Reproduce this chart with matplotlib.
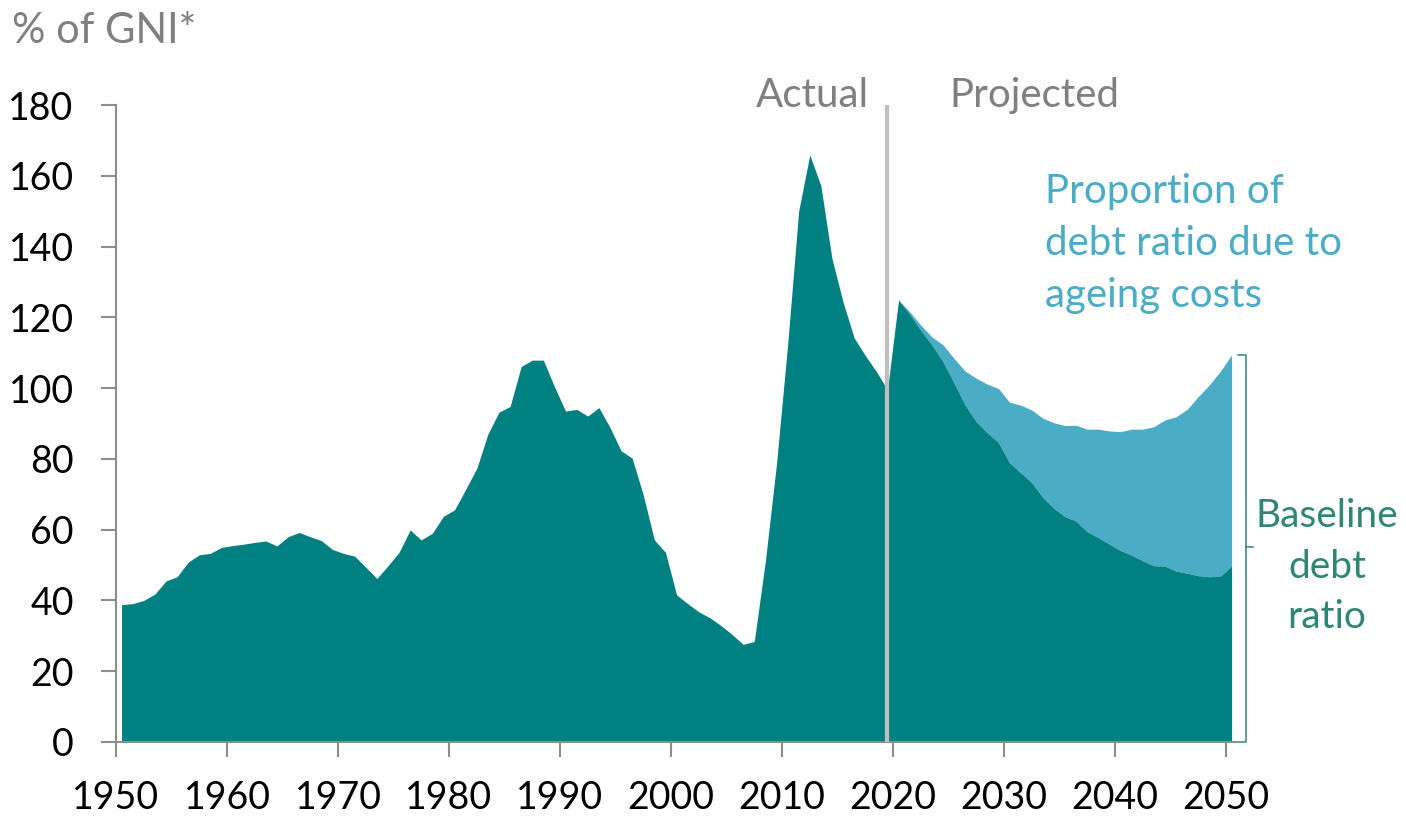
import matplotlib
matplotlib.use("Agg")
import numpy as np
from matplotlib import pyplot as plt

plt.rcParams['font.family'] = ['Lato', 'DejaVu Sans']

# debt ratio, % of GNI*, actual 1950-2019
actual_years = list(range(1950, 2020))
actual_debt = [38.8, 39.1, 40.0, 41.8, 45.5, 46.7, 50.8, 52.9, 53.3, 55.0,
               55.5, 55.9, 56.4, 56.8, 55.4, 58.0, 59.2, 58.0, 56.9, 54.4,
               53.3, 52.5, 49.4, 46.2, 49.8, 53.6, 59.9, 57.1, 59.0, 63.8,
               65.6, 71.4, 77.3, 87.0, 93.2, 94.8, 106.1, 107.9, 107.9, 100.4,
               93.5, 94.0, 92.1, 94.5, 88.9, 82.3, 80.2, 69.8, 57.1, 53.6,
               41.6, 39.1, 36.8, 35.1, 32.9, 30.4, 27.6, 28.4, 51.1, 78.5,
               112.0, 150.0, 165.9, 157.2, 136.6, 124.3, 114.2, 109.2, 104.7, 99.5]

# projections 2019-2050
proj_years = list(range(2019, 2051))
baseline_debt = [99.5, 124.9, 120.9, 116.4, 112.2, 107.5, 101.4, 95.2, 90.5, 87.4,
                 84.6, 78.9, 76.1, 73.3, 69.1, 66.0, 63.7, 62.4, 59.4, 57.8,
                 55.9, 54.1, 52.8, 51.2, 49.8, 49.7, 48.3, 47.7, 47.0, 46.7,
                 46.9, 49.7]
debt_with_ageing = [99.5, 124.9, 121.6, 117.8, 114.5, 112.2, 108.4, 104.8, 102.8, 101.1,
                    99.9, 96.0, 95.2, 93.8, 91.5, 90.2, 89.4, 89.5, 88.4, 88.4,
                    87.9, 87.7, 88.4, 88.4, 89.1, 91.0, 91.9, 94.0, 97.6, 100.9,
                    104.8, 109.4]

x_ticks = list(range(1950, 2051, 10))
y_ticks = list(range(0, 181, 20))

TEAL = '#008080'
LIGHT_BLUE = '#4bacc6'
LABEL_GREEN = '#2f8773'
GREY_TXT = '#808080'
AXIS_GREY = '#8c8c8c'

fig = plt.figure(figsize=(14.06, 8.16), dpi=100)
ax = fig.add_axes([116/1406, 74/816, 1120/1406, 637/816])

# points sit in the middle of each year
xa = np.array(actual_years) + 0.5
xp = np.array(proj_years) + 0.5

ax.fill_between(xa, 0, actual_debt, color=TEAL, lw=0)
ax.fill_between(xp, baseline_debt, debt_with_ageing, color=LIGHT_BLUE, lw=0)
ax.fill_between(xp, 0, baseline_debt, color=TEAL, lw=0)

ax.axvline(2019.45, color='#bfbfbf', lw=3, zorder=5)

ax.set_xlim(1950, 2050.9)
ax.set_ylim(0, 180)
ax.set_xticks(x_ticks)
ax.set_yticks(y_ticks)

for s in ('top', 'right'):
    ax.spines[s].set_visible(False)
for s in ('left', 'bottom'):
    ax.spines[s].set_color(AXIS_GREY)
    ax.spines[s].set_linewidth(1.5)
ax.tick_params(axis='both', colors=AXIS_GREY, width=1.5, length=10.5,
               labelsize=27, labelcolor='black')
ax.tick_params(axis='y', pad=20)
ax.tick_params(axis='x', pad=17)

fig.text(12/1406, 1 - 43/816, '% of GNI*', fontsize=30, color=GREY_TXT, va='baseline')

ax.text(2017.8, 179.4, 'Actual', fontsize=29, color=GREY_TXT, ha='right',
        va='baseline', clip_on=False)
ax.text(2025.1, 179.4, 'Projected', fontsize=29, color=GREY_TXT, ha='left',
        va='baseline', clip_on=False)

for line, yv in zip(['Proportion of', 'debt ratio due to', 'ageing costs'],
                    [152.3, 137.6, 122.9]):
    ax.text(2033.7, yv, line, fontsize=29, color=LIGHT_BLUE, ha='left', va='baseline')

for line, yv in zip(['Baseline', 'debt', 'ratio'], [60.75, 46.3, 32.2]):
    ax.text(2059.1, yv, line, fontsize=28, color=LABEL_GREEN, ha='center',
            va='baseline', clip_on=False)

# bracket next to the 2050 bar
bx0, bx1, bx2 = 2051.1, 2051.8, 2052.4
ax.plot([bx0, bx1, bx1, bx0], [debt_with_ageing[-1], debt_with_ageing[-1], 0, 0],
        color=LABEL_GREEN, lw=1.1, clip_on=False, solid_joinstyle='round')
ax.plot([bx1, bx2], [55, 55], color=LABEL_GREEN, lw=1.1, clip_on=False)

fig.savefig('out.png', dpi=100)
